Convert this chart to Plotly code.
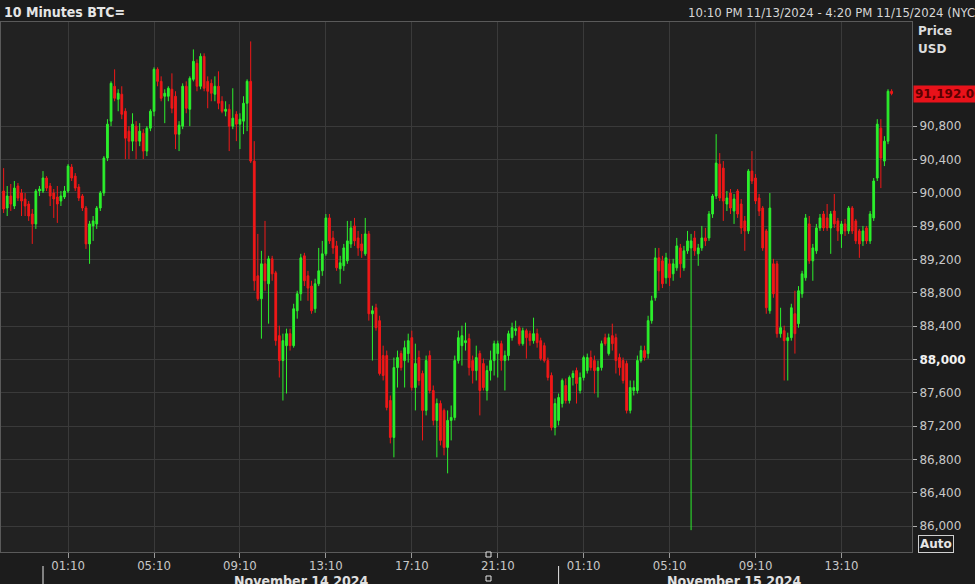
import plotly.graph_objects as go
import pandas as pd

# ---------------- data (10-minute BTC= bars, starting 22:10 on 11/13/2024) ----------------
start_time = "2024-11-13 22:10"

opens = [
    90022, 89818, 89962, 89842, 90082, 89998, 89926, 89866, 89746, 89627,
    90022, 90022, 90178, 90082, 89998, 89950, 89902, 89950, 90022, 90309,
    90201, 90070, 89962, 89818, 89387, 89603, 89627, 89818, 89998, 90417,
    90860, 91279, 91123, 91183, 90979, 90740, 90620, 90800, 90620, 90716,
    90501, 90776, 90979, 91482, 91338, 91159, 91159, 91243, 91159, 90704,
    90800, 91279, 91003, 91362, 91554, 91279, 91638, 91338, 91314, 91183,
    91279, 91099, 90979, 91003, 90800,
    90943, 90824, 90860, 91075, 91338, 90381, 89004, 88729, 89148, 88909,
    89208, 89040, 88286, 87987, 88166, 88310, 88166, 88585, 88789, 89244,
    89004, 88881, 88609, 88909, 89064, 89268, 89699, 89459, 89363, 89088,
    89124, 89184, 89387, 89603, 89459, 89387, 89268, 89507, 88549, 88621,
    88466, 88047, 88047, 87508, 87065, 87903, 88071, 87987, 88071, 88262,
    87664, 88023, 87832, 87389, 88047, 87628, 87269, 87472, 87389, 86945,
    87269, 87305, 87987,
    88166, 88202, 88250, 87987, 87867, 88071, 87951, 87628, 87867, 87987,
    88071, 88190, 87987, 88047, 88262, 88346, 88382, 88190, 88346, 88310,
    88226, 88310, 88226, 88166, 87987, 87808, 87185, 87269, 87472, 87688,
    87508, 87784, 87867, 87628, 87784, 87867, 88023, 87987, 87867, 87903,
    88262, 88071, 88286, 88262, 88023, 87987, 87951, 87389, 87628, 87628,
    87987, 88107, 88071, 88466,
    88741, 89220, 89184, 88981, 89148, 89028, 89100, 89339, 89100, 89304,
    89339, 89459, 89268, 89339, 89459, 89459, 89746, 89962, 90345, 90297,
    89866, 89998, 89782, 90022, 89866, 89663, 89543, 90261, 90178, 89938,
    89818, 89543, 88585, 89148, 89148, 88310, 88346, 88226, 88262, 88549,
    88430, 88789, 88981, 89627, 89184, 89304, 89579, 89746, 89699, 89579,
    89782, 89663, 89507, 89627, 89543, 89818, 89663, 89543, 89423, 89579,
    89423, 89699, 90178, 90776, 90381, 90620, 91219,
]

highs = [
    90297, 90082, 90106, 90142, 90118, 90046, 89998, 89902, 89806, 90046,
    90082, 90261, 90201, 90118, 90046, 90082, 90022, 90082, 90345, 90345,
    90237, 90106, 89986, 89842, 89663, 89722, 89842, 90022, 90441, 90884,
    91338, 91482, 91243, 91279, 91015, 90800, 90955, 90860, 90836, 90764,
    90800, 91003, 91506, 91506, 91398, 91243, 91279, 91434, 91219, 90860,
    91314, 91338, 91398, 91721, 91602, 91674, 91674, 91398, 91362, 91398,
    91458, 91159, 91099, 91063, 91255,
    90979, 90955, 91159, 91362, 91817, 90620, 89507, 89304, 89663, 89244,
    89244, 89064, 88406, 88310, 88370, 88370, 88669, 88825, 89268, 89280,
    89064, 88945, 88969, 89339, 89423, 89746, 89746, 89543, 89423, 89244,
    89387, 89663, 89663, 89699, 89543, 89507, 89699, 89543, 88645, 88669,
    88525, 88166, 88107, 87568, 88023, 88107, 88107, 88226, 88310, 88346,
    88190, 88107, 87867, 88047, 88107, 87688, 87532, 87508, 87412, 87389,
    87448, 88047, 88346,
    88406, 88442, 88310, 88047, 88166, 88107, 88011, 87927, 88107, 88226,
    88226, 88226, 88107, 88346, 88442, 88466, 88406, 88382, 88370, 88346,
    88502, 88370, 88262, 88202, 88023, 87844, 87532, 87592, 87772, 87772,
    87808, 87867, 87903, 87844, 88047, 88071, 88107, 88047, 87987, 88226,
    88310, 88310, 88430, 88310, 88071, 88023, 87987, 87748, 87748, 88047,
    88166, 88166, 88525, 88765,
    89339, 89339, 89244, 89280, 89208, 89208, 89459, 89387, 89363, 89543,
    89507, 89543, 89387, 89603, 89579, 89782, 89986, 90704, 90477, 90381,
    90022, 90046, 89986, 90046, 89926, 89722, 90285, 90501, 90225, 89986,
    89842, 89567, 89998, 89208, 89184, 88621, 88406, 88322, 88669, 88825,
    88881, 89064, 89746, 89722, 89387, 89627, 89746, 89782, 89866, 89782,
    89986, 89699, 89663, 89687, 89842, 89842, 89687, 89567, 89603, 89603,
    89782, 90178, 90884, 90884, 90680, 91243, 91243,
]

lows = [
    89758, 89722, 89782, 89806, 89902, 89722, 89722, 89663, 89387, 89567,
    89962, 89998, 90022, 89842, 89699, 89639, 89842, 89926, 89998, 90142,
    90022, 89902, 89782, 89327, 89148, 89423, 89567, 89782, 89962, 90381,
    90800, 91099, 90979, 90884, 90405, 90405, 90501, 90405, 90560, 90405,
    90441, 90740, 90919, 91279, 91099, 90836, 91099, 90955, 90525, 90501,
    90764, 90955, 90800, 91338, 91219, 91243, 91219, 91015, 91099, 91099,
    91003, 90955, 90919, 90501, 90764,
    90620, 90525, 90704, 90740, 90357, 88825, 88705, 88250, 88825, 88430,
    88945, 88166, 87784, 87508, 87592, 88107, 88142, 88490, 88705, 88881,
    88705, 88549, 88561, 88881, 89004, 89244, 89387, 89268, 89064, 88909,
    89064, 89148, 89339, 89363, 89244, 89220, 89244, 88466, 87987, 88346,
    87808, 87748, 87389, 86993, 86826, 87664, 87867, 87664, 87963, 87628,
    87389, 87688, 87029, 87329, 87592, 87209, 86826, 86969, 86850, 86634,
    87029, 87269, 87951,
    87927, 88107, 87808, 87712, 87748, 87329, 87628, 87508, 87748, 87808,
    87784, 87867, 87628, 87987, 88226, 88286, 88166, 88166, 88011, 88166,
    88190, 88142, 87987, 87963, 87748, 87149, 87089, 87209, 87424, 87472,
    87472, 87688, 87472, 87592, 87748, 87832, 87867, 87592, 87544, 87867,
    88166, 88047, 88107, 87832, 87808, 87712, 87353, 87353, 87568, 87592,
    87963, 87987, 88011, 88430,
    88705, 88825, 88857, 88909, 88881, 88945, 89064, 88981, 89064, 89268,
    85952, 89244, 89124, 89304, 89363, 89423, 89699, 89926, 89902, 89663,
    89782, 89746, 89627, 89699, 89507, 89304, 89507, 90106, 89866, 89722,
    89304, 88549, 88549, 88741, 88262, 88262, 87748, 87748, 88226, 88071,
    88382, 88741, 88945, 89148, 88945, 89268, 89543, 89543, 89543, 89268,
    89579, 89423, 89339, 89483, 89507, 89507, 89387, 89220, 89363, 89387,
    89387, 89663, 90142, 90057, 90321, 90584, 91171,
]

closes = [
    89806, 89962, 89866, 90057, 89938, 89902, 89842, 89722, 89627, 90022,
    90046, 90178, 90057, 89962, 89926, 89866, 89962, 90022, 90321, 90178,
    90057, 89938, 89818, 89387, 89627, 89663, 89818, 89998, 90417, 90824,
    91314, 91135, 91195, 90943, 90656, 90620, 90824, 90620, 90740, 90501,
    90776, 90979, 91482, 91338, 91135, 91195, 91255, 91015, 90704, 90812,
    91279, 91015, 91374, 91578, 91279, 91638, 91255, 91219, 91195, 91279,
    91075, 90979, 91003, 90800, 90896,
    90824, 90884, 91075, 91338, 90381, 88945, 88729, 89148, 88945, 89208,
    89028, 88226, 87987, 88226, 88310, 88166, 88609, 88789, 89220, 88945,
    88857, 88585, 88909, 89064, 89268, 89699, 89423, 89339, 89100, 89160,
    89339, 89423, 89579, 89423, 89339, 89304, 89507, 88549, 88585, 88382,
    87832, 87808, 87424, 87065, 87903, 88023, 87903, 88142, 88226, 87664,
    87951, 87748, 87389, 87987, 87628, 87269, 87472, 87029, 86945, 87269,
    87305, 87987, 88262,
    88286, 88226, 87903, 87867, 88023, 87628, 87664, 87867, 87987, 88190,
    88190, 87987, 88047, 88310, 88382, 88370, 88190, 88346, 88262, 88226,
    88310, 88202, 88011, 87987, 87784, 87185, 87472, 87544, 87748, 87508,
    87784, 87832, 87712, 87784, 88023, 88023, 87903, 87867, 87903, 88190,
    88190, 88262, 88190, 87987, 87903, 87748, 87389, 87664, 87664, 87987,
    88107, 88023, 88466, 88705,
    89220, 89064, 88909, 89220, 88981, 89148, 89363, 89148, 89304, 89423,
    89423, 89304, 89339, 89459, 89423, 89746, 89962, 90357, 89938, 89902,
    89938, 89818, 89926, 89746, 89579, 89543, 90261, 90142, 89902, 89782,
    89339, 88621, 89818, 88789, 88310, 88382, 88226, 88262, 88621, 88310,
    88825, 89028, 89699, 89184, 89339, 89579, 89699, 89579, 89579, 89746,
    89627, 89543, 89627, 89543, 89818, 89543, 89423, 89387, 89543, 89423,
    89746, 90142, 90824, 90417, 90620, 91219, 91192,
]

price_ticks = [86000, 86400, 86800, 87200, 87600, 88000, 88400, 88800,
               89200, 89600, 90000, 90400, 90800]
time_ticks = ["2024-11-14 01:10", "2024-11-14 05:10", "2024-11-14 09:10",
              "2024-11-14 13:10", "2024-11-14 17:10", "2024-11-14 21:10",
              "2024-11-15 01:10", "2024-11-15 05:10", "2024-11-15 09:10",
              "2024-11-15 13:10"]
time_tick_labels = ["01:10", "05:10", "09:10", "13:10", "17:10", "21:10",
                    "01:10", "05:10", "09:10", "13:10"]
day_breaks = ["2024-11-14 00:00", "2024-11-15 00:00"]
day_labels = ["November 14 2024", "November 15 2024"]
day_label_centers = ["2024-11-14 12:00", "2024-11-15 08:10"]
last_price = 91192.00

# ---------------- styling ----------------
W, H = 975, 584
ML, MR, MT, MB = 1, 63, 22, 32
PW, PH = W - ML - MR, H - MT - MB

def px_x(p):
    return (p - ML) / PW

def px_y(p):
    return (H - MB - p) / PH

GREEN = "#2cf02c"
RED = "#f01818"
GRID = "#3a3a3a"
TXT = "#c8c8c8"
NARROW = "Liberation Sans Narrow, DejaVu Sans Condensed, Arial Narrow, sans-serif"
SANS = "DejaVu Sans, Verdana, sans-serif"

times = pd.date_range(start_time, periods=len(closes), freq="10min")

fig = go.Figure()
fig.add_trace(go.Candlestick(
    x=times, open=opens, high=highs, low=lows, close=closes,
    increasing=dict(line=dict(color=GREEN, width=1), fillcolor=GREEN),
    decreasing=dict(line=dict(color=RED, width=1), fillcolor=RED),
    whiskerwidth=0, hoverinfo="skip", showlegend=False,
))

ytext = []
for v in price_ticks:
    s = f"{v:,}"
    if v == 88000:
        s = f"<b><span style='color:#f2f2f2'>{s}</span></b>"
    ytext.append(s)

fig.update_layout(
    width=W, height=H,
    margin=dict(l=ML, r=MR, t=MT, b=MB, pad=0),
    paper_bgcolor="#1c1c1c",
    plot_bgcolor="#222222",
    showlegend=False,
    hovermode=False,
    xaxis=dict(
        type="date",
        range=["2024-11-13 22:02:40", "2024-11-15 16:27:00"],
        rangeslider=dict(visible=False),
        tickmode="array", tickvals=time_ticks, ticktext=time_tick_labels,
        showgrid=True, gridcolor=GRID, gridwidth=1,
        ticks="outside", ticklen=5, tickcolor="#9a9a9a",
        ticklabelstandoff=-4,
        tickfont=dict(family=NARROW, size=13, color=TXT),
        showline=True, mirror=True, linecolor="#5a5a5a", linewidth=1,
        zeroline=False, fixedrange=True,
    ),
    yaxis=dict(
        side="right",
        range=[85690, 92050],
        tickmode="array", tickvals=price_ticks, ticktext=ytext,
        showgrid=True, gridcolor=GRID, gridwidth=1,
        ticks="outside", ticklen=4, tickcolor="#b0b0b0",
        tickfont=dict(family=SANS, size=12, color=TXT),
        showline=True, mirror=True, linecolor="#5a5a5a", linewidth=1,
        zeroline=False, fixedrange=True,
    ),
)

ann = []
ann.append(dict(text="<b>10 Minutes BTC=</b>", xref="paper", yref="paper",
                x=px_x(2), y=px_y(12), xanchor="left", yanchor="middle",
                showarrow=False,
                font=dict(family=NARROW, size=14, color="#e6e6e6")))
ann.append(dict(text="10:10 PM 11/13/2024 - 4:20 PM 11/15/2024 (NYC)",
                xref="paper", yref="paper",
                x=px_x(686), y=px_y(12), xanchor="left", yanchor="middle",
                showarrow=False,
                font=dict(family=NARROW, size=13, color="#d6d6d6")))
ann.append(dict(text="<b>Price</b>", xref="paper", yref="paper",
                x=px_x(916), y=px_y(31), xanchor="left", yanchor="middle",
                showarrow=False, font=dict(family=SANS, size=12, color="#dcdcdc")))
ann.append(dict(text="<b>USD</b>", xref="paper", yref="paper",
                x=px_x(916), y=px_y(49), xanchor="left", yanchor="middle",
                showarrow=False, font=dict(family=SANS, size=12, color="#dcdcdc")))
ann.append(dict(text=f"<b>{last_price:,.2f}</b>", xref="paper", yref="y",
                x=px_x(913), y=last_price, xanchor="left", yanchor="middle",
                showarrow=False, bgcolor="#e8121a", borderpad=1,
                font=dict(family=SANS, size=12, color="#5c0000")))
ann.append(dict(text="<b>Auto</b>", xref="paper", yref="paper",
                x=px_x(918), y=px_y(544), xanchor="left", yanchor="middle",
                showarrow=False, bordercolor="#cfcfcf", borderwidth=1, borderpad=1,
                font=dict(family=SANS, size=12, color="#e6e6e6")))
for lab, c in zip(day_labels, day_label_centers):
    ann.append(dict(text=f"<b>{lab}</b>", xref="x", yref="paper",
                    x=c, y=px_y(571), xanchor="center", yanchor="top",
                    showarrow=False,
                    font=dict(family=NARROW, size=14, color="#e0e0e0")))
fig.update_layout(annotations=ann)

shapes = []
for d in day_breaks:
    shapes.append(dict(type="line", xref="x", yref="paper", x0=d, x1=d,
                       y0=px_y(566), y1=px_y(584),
                       line=dict(color="#e6e6e6", width=1)))
# small scroll markers under the 21:10 tick
for y0, y1 in [(552, 557), (576, 581)]:
    shapes.append(dict(type="rect", xref="paper", yref="paper",
                       x0=px_x(486), x1=px_x(491), y0=px_y(y1), y1=px_y(y0),
                       line=dict(color="#e6e6e6", width=1), fillcolor="#1c1c1c"))
fig.update_layout(shapes=shapes)

fig.write_html(
    "out.html",
    config=dict(displayModeBar=False),
    post_script="document.body.style.margin='0';document.body.style.background='#1c1c1c';document.body.style.overflow='hidden';",
)
